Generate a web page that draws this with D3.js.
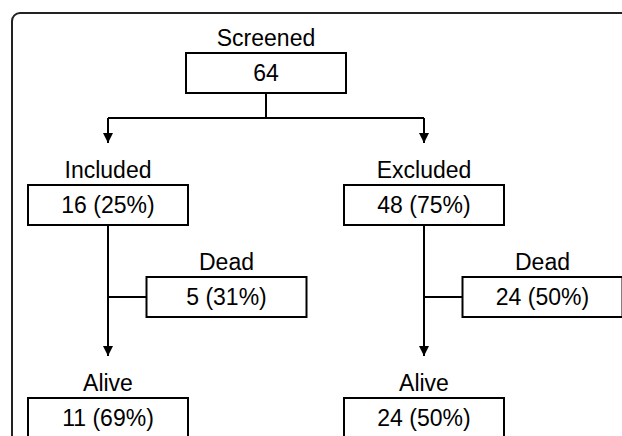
<!DOCTYPE html>
<html>
<head>
<meta charset="utf-8">
<script src="https://cdn.jsdelivr.net/npm/d3@7"></script>
<style>
  html, body { margin: 0; padding: 0; background: #fff; overflow: hidden; }
  svg { display: block; }
  text { font-family: "Liberation Sans", Arial, sans-serif; font-size: 23px; fill: #000; }
</style>
</head>
<body>
<div id="chart"></div>
<script>
// Flow data
const nodeIds = ['screened', 'included', 'excluded', 'deadInc', 'deadExc', 'aliveInc', 'aliveExc'];
const nodeLabels = ['Screened', 'Included', 'Excluded', 'Dead', 'Dead', 'Alive', 'Alive'];
const nodeCounts = [64, 16, 48, 5, 24, 11, 24];
const nodePercents = [null, 25, 75, 31, 50, 69, 50];
const nodeStages = ['screen', 'group', 'group', 'outcome', 'outcome', 'final', 'final'];
const nodeColumns = [0.5, 0, 1, 0.375, 1.375, 0, 1];

const width = 622, height = 436;
const boxW = 160, boxH = 40;

const svg = d3.select('#chart').append('svg')
  .attr('width', width)
  .attr('height', height);

// arrow marker
svg.append('defs').append('marker')
  .attr('id', 'arrow')
  .attr('viewBox', '0 0 10 10')
  .attr('refX', 10).attr('refY', 5)
  .attr('markerWidth', 10).attr('markerHeight', 10)
  .attr('markerUnits', 'userSpaceOnUse')
  .attr('orient', 'auto')
  .append('path')
  .attr('d', 'M0,0 L10,5 L0,10 Z')
  .attr('fill', '#000');

// outer frame
svg.append('rect')
  .attr('x', 12).attr('y', 13)
  .attr('width', 700).attr('height', 500)
  .attr('rx', 8)
  .attr('fill', 'none')
  .attr('stroke', '#222')
  .attr('stroke-width', 2);

const x = d3.scaleLinear().domain([0, 1]).range([108, 424]);
const yTop = d3.scaleOrdinal()
  .domain(['screen', 'group', 'outcome', 'final'])
  .range([53, 185, 277, 398]);

const nodes = nodeIds.map((id, i) => ({
  id,
  label: nodeLabels[i],
  count: nodeCounts[i],
  pct: nodePercents[i],
  cx: x(nodeColumns[i]),
  top: yTop(nodeStages[i])
}));
const byId = Object.fromEntries(nodes.map(n => [n.id, n]));

const links = svg.append('g')
  .attr('fill', 'none')
  .attr('stroke', '#000')
  .attr('stroke-width', 2);

// screened -> split
const s = byId.screened;
const splitY = 118;
links.append('line')
  .attr('x1', s.cx).attr('x2', s.cx)
  .attr('y1', s.top + boxH).attr('y2', splitY);
links.append('line')
  .attr('x1', byId.included.cx).attr('x2', byId.excluded.cx)
  .attr('y1', splitY).attr('y2', splitY);
['included', 'excluded'].forEach(id => {
  links.append('line')
    .attr('x1', byId[id].cx).attr('x2', byId[id].cx)
    .attr('y1', splitY).attr('y2', 143)
    .attr('marker-end', 'url(#arrow)');
});

// group -> alive, with side branch to dead
[['included', 'deadInc', 'aliveInc'], ['excluded', 'deadExc', 'aliveExc']].forEach(([g, d, a]) => {
  const gn = byId[g], dn = byId[d], an = byId[a];
  links.append('line')
    .attr('x1', gn.cx).attr('x2', gn.cx)
    .attr('y1', gn.top + boxH).attr('y2', an.top - 42)
    .attr('marker-end', 'url(#arrow)');
  links.append('line')
    .attr('x1', gn.cx).attr('x2', dn.cx - boxW / 2)
    .attr('y1', dn.top + boxH / 2).attr('y2', dn.top + boxH / 2);
});

// boxes
const node = svg.append('g').selectAll('g')
  .data(nodes)
  .join('g');

node.append('rect')
  .attr('x', d => d.cx - boxW / 2)
  .attr('y', d => d.top)
  .attr('width', boxW)
  .attr('height', boxH)
  .attr('fill', '#fff')
  .attr('stroke', '#000')
  .attr('stroke-width', 2);

node.append('text')
  .attr('x', d => d.cx)
  .attr('y', d => d.top - 7)
  .attr('text-anchor', 'middle')
  .text(d => d.label);

node.append('text')
  .attr('x', d => d.cx)
  .attr('y', d => d.top + boxH / 2 + 8)
  .attr('text-anchor', 'middle')
  .text(d => d.pct == null ? d.count : `${d.count} (${d.pct}%)`);
</script>
</body>
</html>
